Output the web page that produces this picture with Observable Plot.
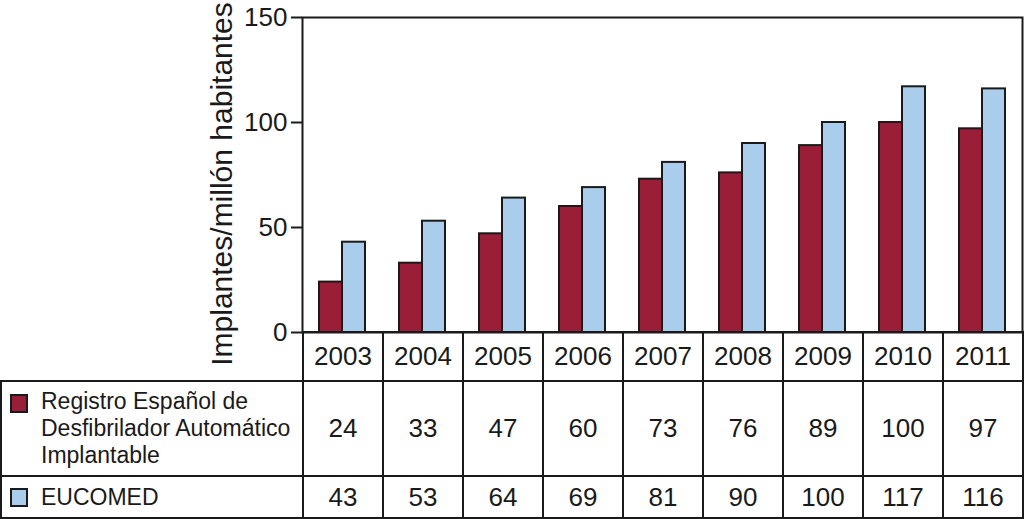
<!DOCTYPE html>
<html>
<head>
<meta charset="utf-8">
<script src="https://cdn.jsdelivr.net/npm/d3@7"></script>
<script src="https://cdn.jsdelivr.net/npm/@observablehq/plot@0.6"></script>
<style>
  html, body { margin: 0; padding: 0; background: #fff; }
  body { width: 1024px; height: 519px; position: relative; overflow: hidden; font-family: "Liberation Sans", Arial, sans-serif; color: #1a1a1a; }
  #chart { position: absolute; left: 0; top: 0; }
  #tbl { position: absolute; left: 0; top: 331px; border-collapse: collapse; table-layout: fixed; }
  #tbl td { border: 2px solid #1a1a1a; padding: 0; text-align: center; font-size: 26px; }
  #tbl td.blank { border-top: none; border-left: none; }
  #tbl tr.years td { height: 47px; }
  #tbl tr.r1 td { height: 93px; }
  #tbl tr.r2 td { height: 40px; }
  #tbl td.leg { text-align: left; font-size: 23px; }
  .legwrap { display: flex; align-items: flex-start; }
  .sw { width: 14px; height: 15px; border: 2px solid #1a1a1a; margin-left: 8px; flex: none; }
  .legtext { line-height: 27px; margin-left: 13px; }
</style>
</head>
<body>
<div id="chart"></div>
<script>
const years = ["2003","2004","2005","2006","2007","2008","2009","2010","2011"];
const seriesNames = ["Registro Español de Desfibrilador Automático Implantable", "EUCOMED"];
const legendLines = [["Registro Español de", "Desfibrilador Automático", "Implantable"], ["EUCOMED"]];
const registro = [24, 33, 47, 60, 73, 76, 89, 100, 97];
const eucomed = [43, 53, 64, 69, 81, 90, 100, 117, 116];
const yTicks = [0, 50, 100, 150];
const yLabel = "Implantes/millón habitantes";
const colors = ["#9b1e38", "#abcdec"];

const rows = [];
years.forEach((y, i) => {
  rows.push({year: y, series: seriesNames[0], value: registro[i]});
  rows.push({year: y, series: seriesNames[1], value: eucomed[i]});
});

const plot = Plot.plot({
  width: 1024,
  height: 380,
  marginLeft: 302,
  marginRight: 2,
  marginTop: 17,
  marginBottom: 48,
  style: {fontFamily: "Liberation Sans, Arial, sans-serif", color: "#1a1a1a", background: "transparent"},
  x: {type: "band", domain: years, padding: 0, axis: null},
  y: {domain: [0, 150], axis: null},
  color: {domain: seriesNames, range: colors},
  marks: [
    Plot.barY(rows.filter(d => d.series === seriesNames[0]), {x: "year", y: "value", fill: colors[0], stroke: "#1a1a1a", strokeWidth: 2, insetLeft: 17, insetRight: 40}),
    Plot.barY(rows.filter(d => d.series === seriesNames[1]), {x: "year", y: "value", fill: colors[1], stroke: "#1a1a1a", strokeWidth: 2, insetLeft: 40, insetRight: 17}),
    Plot.axisY(yTicks, {tickSize: 11, tickPadding: 4, fontSize: 26, strokeWidth: 2, stroke: "#1a1a1a", fill: "#1a1a1a", label: null}),
    Plot.text([yLabel], {frameAnchor: "left", textAnchor: "middle", rotate: -90, dx: -80, dy: 9, fontSize: 30, fill: "#1a1a1a"}),
    Plot.frame({stroke: "#1a1a1a", strokeWidth: 2})
  ]
});
document.getElementById("chart").append(plot);

// data table
const table = d3.select("body").append("table").attr("id", "tbl");
const cg = table.append("colgroup");
cg.append("col").style("width", "302px");
years.forEach(() => cg.append("col").style("width", "80px"));
const tr0 = table.append("tr").attr("class", "years");
tr0.append("td").attr("class", "blank");
years.forEach(y => tr0.append("td").text(y));
[registro, eucomed].forEach((vals, si) => {
  const tr = table.append("tr").attr("class", si === 0 ? "r1" : "r2");
  const leg = tr.append("td").attr("class", "leg");
  const wrap = leg.append("div").attr("class", "legwrap").style("align-items", si === 0 ? "flex-start" : "center");
  wrap.append("div").attr("class", "sw").style("background", colors[si]).style("margin-top", si === 0 ? "6px" : "0px");
  const t = wrap.append("div").attr("class", "legtext");
  legendLines[si].forEach(l => t.append("div").text(l));
  vals.forEach(v => tr.append("td").text(v));
});
</script>
</body>
</html>
